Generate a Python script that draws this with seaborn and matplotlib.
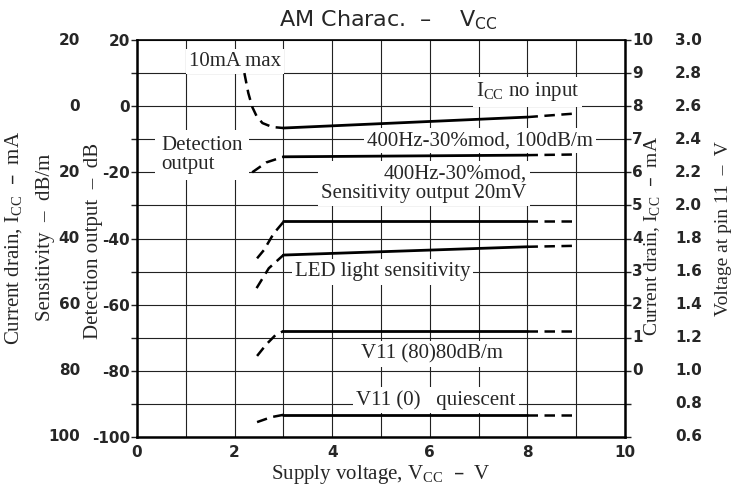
import matplotlib
matplotlib.use("Agg")
import matplotlib.pyplot as plt
import seaborn as sns
import numpy as np

# supply voltage (V) for the solid middle part and the dashed tail
vcc_solid = [3.0, 8.0]
vcc_tail = [8.0, 9.0]

# I_CC no input (read on the detection-output scale, dB)
icc_lead_x = [2.2, 2.28, 2.36, 2.45, 2.57, 2.77, 3.0]
icc_lead_y = [10, 4, -0.2, -3, -5.1, -6.3, -6.6]
icc_solid_y = [-6.6, -3.3]
icc_tail_y = [-3.3, -2.2]

# 400Hz-30%mod, 100dB/m
mod100_lead_x = [2.36, 2.65, 3.0]
mod100_lead_y = [-20, -17, -15.3]
mod100_solid_y = [-15.3, -14.8]
mod100_tail_y = [-14.8, -14.6]

# 400Hz-30%mod, sensitivity output 20mV
sens20_lead_x = [2.46, 2.6, 2.8, 3.0]
sens20_lead_y = [-46, -43.5, -38.5, -35]
sens20_solid_y = [-34.8, -34.8]
sens20_tail_y = [-34.8, -34.8]

# LED light sensitivity
led_lead_x = [2.45, 2.7, 3.0]
led_lead_y = [-55, -49, -45]
led_solid_y = [-45, -42.5]
led_tail_y = [-42.5, -42.2]

# V11 (80) 80dB/m
v80_lead_x = [2.46, 2.65, 2.85, 3.0]
v80_lead_y = [-75.5, -72, -69, -68]
v80_solid_y = [-68, -68]
v80_tail_y = [-68, -68]

# V11 (0) quiescent
v0_lead_x = [2.46, 2.75, 3.0]
v0_lead_y = [-95.5, -94, -93.3]
v0_solid_y = [-93.3, -93.3]
v0_tail_y = [-93.3, -93.3]

# axis labels
x_ticks = [0, 2, 4, 6, 8, 10]
det_ticks = [20, 0, -20, -40, -60, -80, -100]
sens_labels = ["20", "0", "20", "40", "60", "80", "100"]
icc_ma = [10, 9, 8, 7, 6, 5, 4, 3, 2, 1, 0]
volt_pin11 = [3.0, 2.8, 2.6, 2.4, 2.2, 2.0, 1.8, 1.6, 1.4, 1.2, 1.0, 0.8, 0.6]

curves = [
    (icc_lead_x, icc_lead_y, icc_solid_y, icc_tail_y),
    (mod100_lead_x, mod100_lead_y, mod100_solid_y, mod100_tail_y),
    (sens20_lead_x, sens20_lead_y, sens20_solid_y, sens20_tail_y),
    (led_lead_x, led_lead_y, led_solid_y, led_tail_y),
    (v80_lead_x, v80_lead_y, v80_solid_y, v80_tail_y),
    (v0_lead_x, v0_lead_y, v0_solid_y, v0_tail_y),
]

sns.set_style("white")
plt.rcParams["font.family"] = ["DejaVu Sans"]
plt.rcParams["axes.unicode_minus"] = False

SERIF = "Liberation Serif"
SANS = "DejaVu Sans"

fig = plt.figure(figsize=(7.39, 4.94), dpi=100)
ax = fig.add_axes([0.1854, 0.1154, 0.6604, 0.8036])

dash = (0, (4.2, 2.6))
for lead_x, lead_y, solid_y, tail_y in curves:
    sns.lineplot(x=lead_x, y=lead_y, ax=ax, color="black", lw=1.8,
                 linestyle=dash, estimator=None, sort=False, zorder=4)
    sns.lineplot(x=vcc_solid, y=solid_y, ax=ax, color="black", lw=2.0,
                 estimator=None, sort=False, zorder=4)
    sns.lineplot(x=vcc_tail, y=tail_y, ax=ax, color="black", lw=1.8,
                 linestyle=dash, estimator=None, sort=False, zorder=4)

ax.set_xlim(0, 10)
ax.set_ylim(-100, 20)
ax.set_xticks(x_ticks)
ax.set_xticks(range(0, 11), minor=True)
ax.set_yticks(det_ticks)
ax.set_yticks(range(-100, 21, 10), minor=True)
ax.grid(True, which="both", color="#222222", lw=0.8)
ax.set_axisbelow(True)

ax.set_xticklabels([str(v) for v in x_ticks], fontsize=11, fontweight="bold", family=SANS)
ax.set_yticklabels([str(v) for v in det_ticks], fontsize=11, fontweight="bold", family=SANS)
ax.tick_params(axis="x", which="both", length=0, pad=6)
ax.tick_params(axis="y", which="both", left=True, right=True, length=4,
               direction="out", width=1, pad=1, color="#222222")

for side in ["left", "bottom", "right"]:
    ax.spines[side].set_linewidth(1.8)
ax.spines["top"].set_linewidth(1.2)
for sp in ax.spines.values():
    sp.set_color("black")

yt = ax.get_yaxis_transform()
# sensitivity column on the left
for y, lab in zip(det_ticks, sens_labels):
    ax.text(-0.117, y, lab, transform=yt, ha="right", va="center",
            fontsize=11, fontweight="bold", family=SANS, clip_on=False)
# current drain column on the right
for ma in icc_ma:
    ax.text(1.014, ma * 10 - 80, str(ma), transform=yt, ha="left", va="center",
            fontsize=11, fontweight="bold", family=SANS, clip_on=False)
# voltage at pin 11 column
for v in volt_pin11:
    ax.text(1.158, 50 * v - 130, f"{v:.1f}", transform=yt, ha="right", va="center",
            fontsize=11, fontweight="bold", family=SANS, clip_on=False)

# curve annotations
box = dict(boxstyle="square,pad=0.15", fc="white", ec="none")
txt = dict(fontsize=15, family=SERIF, zorder=3, bbox=box)
ax.text(2.01, 13.6, "10mA max", ha="center", va="center", **txt)
ax.text(0.49, -14.8, "Detection\noutput", ha="left", va="center", linespacing=1.0,
        fontsize=15, family=SERIF, zorder=3,
        bbox=dict(boxstyle="square,pad=0.3", fc="white", ec="none"))
ax.text(8.0, 4.3, "I$_\\mathregular{CC}$ no input", ha="center", va="center", **txt)
ax.text(7.02, -10.4, "400Hz-30%mod, 100dB/m", ha="center", va="center", **txt)
ax.text(7.99, -23.5, "400Hz-30%mod,\nSensitivity output 20mV", ha="right", va="center",
        multialignment="right", linespacing=1.05, **txt)
ax.text(5.03, -50.1, "LED light sensitivity", ha="center", va="center", **txt)
ax.text(6.04, -74.9, "V11 (80)80dB/m", ha="center", va="center", **txt)
ax.text(6.12, -88.8, "V11 (0)   quiescent", ha="center", va="center", **txt)

ax.set_xlabel("Supply voltage, V$_\\mathregular{CC}$  –  V", fontsize=15, family=SERIF,
              labelpad=2)

fig.text(0.525, 0.96, "AM Charac.  –    V$_\\mathregular{CC}$", ha="center", va="center",
         fontsize=16, family=SANS)

# axis titles
fig.text(0.020, 1 - 238 / 494, "Current drain, I$_\\mathregular{CC}$  –  mA", rotation=90,
         ha="center", va="center", fontsize=15, family=SERIF)
fig.text(0.062, 1 - 237 / 494, "Sensitivity  –  dB/m", rotation=90,
         ha="center", va="center", fontsize=15, family=SERIF)
fig.text(0.126, 1 - 241 / 494, "Detection output  –  dB", rotation=90,
         ha="center", va="center", fontsize=15, family=SERIF)
fig.text(653 / 739, 1 - 236 / 494, "Current drain, I$_\\mathregular{CC}$  –  mA", rotation=90,
         ha="center", va="center", fontsize=14, family=SERIF)
fig.text(723 / 739, 1 - 229 / 494, "Voltage at pin 11  –  V", rotation=90,
         ha="center", va="center", fontsize=14, family=SERIF)

fig.savefig("out.png", dpi=100)
